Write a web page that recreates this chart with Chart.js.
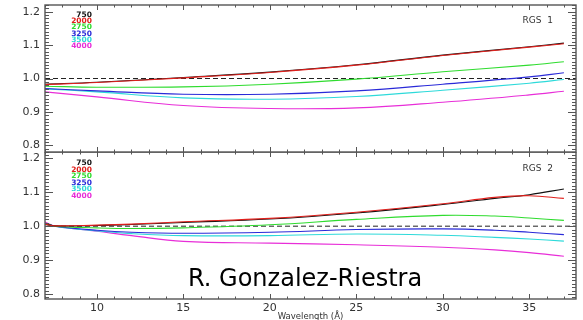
<!DOCTYPE html>
<html>
<head>
<meta charset="utf-8">
<title>RGS ratios</title>
<script src="https://cdn.jsdelivr.net/npm/chart.js"></script>
<style>
  body { margin: 0; background: #fff; }
  #wrap { position: relative; width: 583px; height: 320px; overflow: hidden; }
  #wrap canvas { position: absolute; left: 0; }
  #c1 { top: 0; }
  #c2 { top: 152px; }
  #credit { position: absolute; left: 188px; top: 266px; font-family: "DejaVu Sans"; font-size: 24px; line-height: 24px; color: #000; white-space: nowrap; }
</style>
</head>
<body>
<div id="wrap">
  <canvas id="c1" width="583" height="160"></canvas>
  <canvas id="c2" width="583" height="168"></canvas>
  <div id="credit">R. Gonzalez-Riestra</div>
</div>
<script>
  // temperatures (legend) and colours
  const temps = ['750', '2000', '2750', '3250', '3500', '4000'];
  const colors = ['#111111', '#e0201c', '#2fdc2f', '#2a2ad8', '#2edada', '#e82ed8'];

  const xTicks = [10, 15, 20, 25, 30, 35];
  const yTicks = [0.8, 0.9, 1.0, 1.1, 1.2];
  const refLevel = 1.0;

  // RGS 1
  const wlTop = [7, 10, 15, 20, 25, 30, 35, 37];
  const rgs1_750  = [0.983, 0.989, 1.003, 1.019, 1.041, 1.070, 1.095, 1.106];
  const rgs1_2000 = [0.982, 0.988, 1.002, 1.018, 1.040, 1.069, 1.094, 1.104];
  const rgs1_2750 = [0.977, 0.974, 0.975, 0.983, 0.998, 1.020, 1.040, 1.050];
  const rgs1_3250 = [0.970, 0.963, 0.953, 0.953, 0.963, 0.983, 1.005, 1.017];
  const rgs1_3500 = [0.969, 0.960, 0.942, 0.938, 0.946, 0.965, 0.986, 0.997];
  const rgs1_4000 = [0.960, 0.945, 0.919, 0.910, 0.912, 0.929, 0.951, 0.962];

  // RGS 2
  const wlBot = [7, 7.6, 10, 12, 15, 20, 25, 30, 33, 35, 37];
  const rgs2_750  = [1.006, 1.001, 1.002, 1.005, 1.011, 1.021, 1.039, 1.064, 1.082, 1.093, 1.110];
  const rgs2_2000 = [1.006, 1.001, 1.003, 1.006, 1.013, 1.023, 1.041, 1.066, 1.085, 1.090, 1.082];
  const rgs2_2750 = [1.008, 1.000, 0.995, 0.993, 0.995, 1.004, 1.020, 1.032, 1.030, 1.024, 1.017];
  const rgs2_3250 = [1.008, 1.000, 0.988, 0.982, 0.979, 0.982, 0.990, 0.992, 0.988, 0.982, 0.975];
  const rgs2_3500 = [1.008, 0.999, 0.986, 0.978, 0.972, 0.972, 0.977, 0.973, 0.967, 0.962, 0.956];
  const rgs2_4000 = [1.012, 1.000, 0.985, 0.972, 0.955, 0.950, 0.945, 0.938, 0.930, 0.922, 0.911];

  const xMin = 7, xMax = 37.7;
  const tickFont = { family: 'DejaVu Sans', size: 11 };

  function makeSets(wl, series) {
    const sets = series.map((vals, i) => ({
      label: temps[i],
      data: wl.map((x, j) => ({ x: x, y: vals[j] })),
      borderColor: colors[i],
      borderWidth: 1.1,
      pointRadius: 0,
      tension: 0.4,
      order: i === 1 ? -1 : i,   // red drawn over black
      fill: false
    }));
    sets.push({
      label: 'ref',
      data: [{ x: xMin, y: refLevel }, { x: xMax, y: refLevel }],
      borderColor: '#222',
      borderWidth: 1,
      borderDash: [5, 3],
      pointRadius: 0,
      order: 10,
      fill: false
    });
    return sets;
  }

  // IDL style box with inward ticks, legend and panel label
  const frame = {
    id: 'frame',
    afterDraw(chart, args, opts) {
      const { ctx, chartArea: a, scales: { x, y } } = chart;
      ctx.save();
      ctx.strokeStyle = '#555';
      ctx.lineWidth = 1.4;
      ctx.strokeRect(a.left, a.top, a.right - a.left, a.bottom - a.top);
      ctx.lineWidth = 1;
      ctx.beginPath();
      for (let v = Math.ceil(x.min); v <= x.max; v++) {
        const px = Math.round(x.getPixelForValue(v)) + 0.5;
        const len = v % 5 === 0 ? 5 : 2.5;
        ctx.moveTo(px, a.bottom); ctx.lineTo(px, a.bottom - len);
        ctx.moveTo(px, a.top); ctx.lineTo(px, a.top + len);
      }
      for (let i = Math.ceil(y.min * 100 - 1e-6); i <= y.max * 100 + 1e-6; i++) {
        const py = Math.round(y.getPixelForValue(i / 100)) + 0.5;
        const len = i % 10 === 0 ? 8 : 4;
        ctx.moveTo(a.left, py); ctx.lineTo(a.left + len, py);
        ctx.moveTo(a.right, py); ctx.lineTo(a.right - len, py);
      }
      ctx.stroke();

      ctx.font = 'bold 7.5px "DejaVu Sans"';
      ctx.textAlign = 'right';
      ctx.textBaseline = 'middle';
      temps.forEach((t, i) => {
        ctx.fillStyle = colors[i];
        ctx.fillText(t, a.left + 47, a.top + opts.legendTop + i * opts.legendStep);
      });
      ctx.fillStyle = '#333';
      ctx.font = '9px "DejaVu Sans"';
      ctx.fillText(opts.label, a.right - 23, a.top + opts.labelTop);
      ctx.restore();
    }
  };

  function makeChart(id, wl, series, yMin, yMax, bottom, opts) {
    return new Chart(document.getElementById(id), {
      type: 'line',
      data: { datasets: makeSets(wl, series) },
      plugins: [frame],
      options: {
        responsive: false,
        animation: false,
        events: [],
        layout: { padding: { top: bottom ? 0 : 5, right: 7, bottom: bottom ? 0 : 8, left: 0 } },
        plugins: {
          legend: { display: false },
          tooltip: { enabled: false },
          frame: opts
        },
        scales: {
          x: {
            type: 'linear',
            min: xMin,
            max: xMax,
            display: bottom,
            grid: { display: false, drawTicks: false },
            border: { display: false },
            afterBuildTicks: s => { s.ticks = xTicks.map(v => ({ value: v })); },
            afterFit: s => {
              s.height = bottom ? 21 : 0;
              s.paddingLeft = 0; s.paddingRight = 0;
            },
            ticks: { font: tickFont, color: '#333', padding: 3, maxRotation: 0, autoSkip: false },
            title: {
              display: true,
              text: 'Wavelength (Å)',
              color: '#333',
              font: { family: 'DejaVu Sans', size: 8.5 },
              padding: { top: 0, bottom: -2 }
            }
          },
          y: {
            min: yMin,
            max: yMax,
            grid: { display: false, drawTicks: false },
            border: { display: false },
            afterBuildTicks: s => { s.ticks = yTicks.map(v => ({ value: v })); },
            afterFit: s => {
              s.width = 45;
              s.paddingTop = 0; s.paddingBottom = 0;
            },
            ticks: { font: tickFont, color: '#333', padding: 5, callback: v => v.toFixed(1) }
          }
        }
      }
    });
  }

  makeChart('c1', wlTop, [rgs1_750, rgs1_2000, rgs1_2750, rgs1_3250, rgs1_3500, rgs1_4000],
    0.78, 1.22, false, { label: 'RGS  1', legendTop: 10, legendStep: 6.2, labelTop: 16 });
  makeChart('c2', wlBot, [rgs2_750, rgs2_2000, rgs2_2750, rgs2_3250, rgs2_3500, rgs2_4000],
    0.785, 1.219, true, { label: 'RGS  2', legendTop: 11.3, legendStep: 6.5, labelTop: 17 });
</script>
</body>
</html>
